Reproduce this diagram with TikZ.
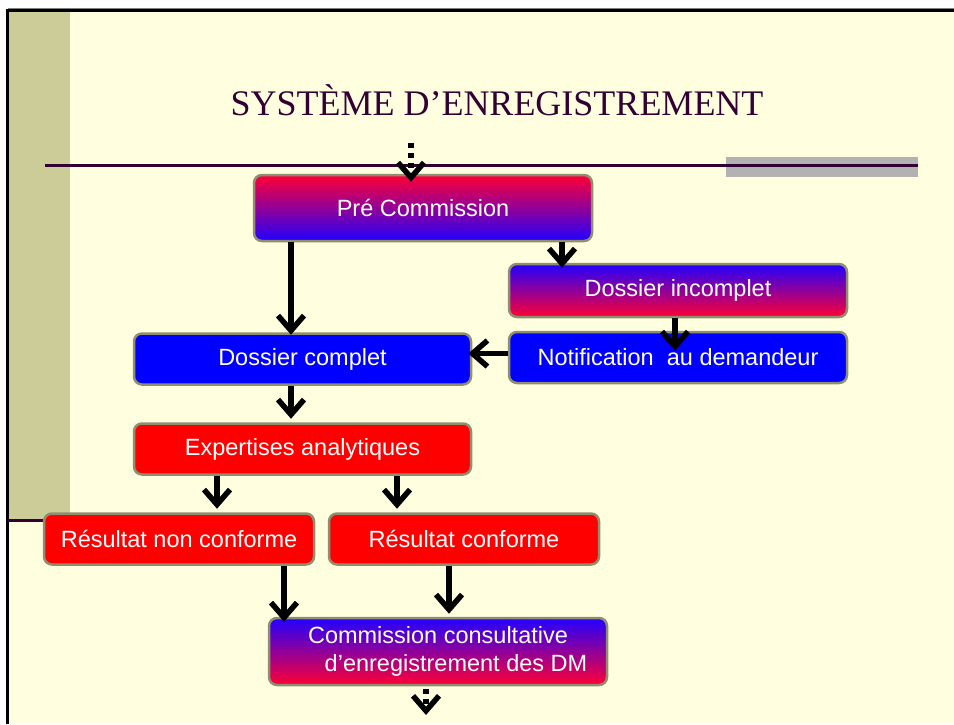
\documentclass[tikz,border=0pt]{standalone}
\usepackage{fontspec}
\setmainfont{Liberation Serif}
\newfontfamily\boxfont{Liberation Sans}
\usetikzlibrary{arrows.meta}
\definecolor{paper}{HTML}{FFFFE0}
\definecolor{khaki}{HTML}{CCCC99}
\definecolor{plum}{HTML}{330033}
\definecolor{rim}{HTML}{8F8F6F}
\definecolor{hotred}{HTML}{FF0033}
\definecolor{deepblue}{HTML}{2200FF}
\definecolor{midmagenta}{HTML}{CC0099}
\tikzset{
  stage/.style={draw=rim, line width=2.5pt, rounded corners=8pt, text=white,
    font=\boxfont\fontsize{23.5}{28}\selectfont, inner sep=0pt, align=center},
  bluebox/.style={stage, fill=blue},
  redbox/.style={stage, fill=red},
  redtoblue/.style={stage, top color=hotred, middle color=midmagenta, bottom color=deepblue},
  bluetored/.style={stage, top color=deepblue, middle color=midmagenta, bottom color=hotred},
  flow/.style={line width=5.5pt, -{Straight Barb[length=15pt,width=26pt]}},
  dotflow/.style={flow, dash pattern=on 5pt off 5pt}
}

\begin{document}
\begin{tikzpicture}[x=1pt,y=-1pt]
    % slide background
    \useasboundingbox (0,0) rectangle (954,724);
    \fill[white] (0,0) rectangle (954,724);
    \fill[paper] (8,10) rectangle (954,724);
    \fill[khaki] (9,11) rectangle (70,520);
    \draw[gray, line width=1pt] (8,8.5) -- (954,8.5);
    \draw[line width=3pt] (7.5,724) -- (7.5,10) -- (954,10);
    \fill[gray!60] (726,157) rectangle (918,177);
    \draw[plum, line width=3pt] (45,165) -- (918,165);
    \draw[plum, line width=3pt] (8,520) -- (60,520);

    \node[plum, font=\fontsize{36}{40}\selectfont] (title) at (497,100) {SYSTÈME D’ENREGISTREMENT};

    \node[redtoblue, minimum width=338pt, minimum height=66pt] (pre) at (423,208) {Pré Commission};
    \node[bluetored, minimum width=338pt, minimum height=53pt] (incomp) at (678,290.5) {Dossier incomplet};
    \node[bluebox, minimum width=337pt, minimum height=51pt] (complet) at (302.5,359) {Dossier complet};
    \node[bluebox, minimum width=338pt, minimum height=51pt] (notif) at (678,357.5) {Notification\ \ au demandeur};
    \node[redbox, minimum width=337pt, minimum height=51pt] (expert) at (302.5,449) {Expertises analytiques};
    \node[redbox, minimum width=270pt, minimum height=51pt] (nonconf) at (179,539) {Résultat non conforme};
    \node[redbox, minimum width=270pt, minimum height=51pt] (conf) at (464,539) {Résultat conforme};
    \node[bluetored, minimum width=338pt, minimum height=67pt] (ccde) at (438,651.5)
      {Commission consultative\\\hspace*{36pt}d’enregistrement des DM};

    \coordinate (topin) at (411,143);
    \coordinate (botout) at (426,715);

    \draw[dotflow] (topin) -- ([xshift=-12pt,yshift=-8pt]pre.north);
    \draw[flow] ([xshift=-132pt]pre.south) -- ([xshift=-11.5pt,yshift=-2.5pt]complet.north);
    \draw[flow] ([xshift=139pt]pre.south) -- ([xshift=-116pt,yshift=-5pt]incomp.north);
    \draw[flow] ([xshift=-3pt]incomp.south) -- ([xshift=-3pt,yshift=-20pt]notif.north);
    \draw[flow] ([yshift=4pt]notif.west) -- ([xshift=-4pt,yshift=5.5pt]complet.east);
    \draw[flow] ([xshift=-11.5pt]complet.south) -- ([xshift=-11.5pt,yshift=3.5pt]expert.north);
    \draw[flow] ([xshift=-85.5pt]expert.south) -- ([xshift=38pt,yshift=3.5pt]nonconf.north);
    \draw[flow] ([xshift=94.5pt]expert.south) -- ([xshift=-67pt,yshift=3.5pt]conf.north);
    \draw[flow] ([xshift=105pt]nonconf.south) -- ([xshift=-154pt,yshift=-5pt]ccde.north);
    \draw[flow] ([xshift=-15pt]conf.south) -- ([xshift=11pt,yshift=3pt]ccde.north);
    \draw[dotflow] ([xshift=-12pt,yshift=-3pt]ccde.south) -- (botout);
\end{tikzpicture}
\end{document}
